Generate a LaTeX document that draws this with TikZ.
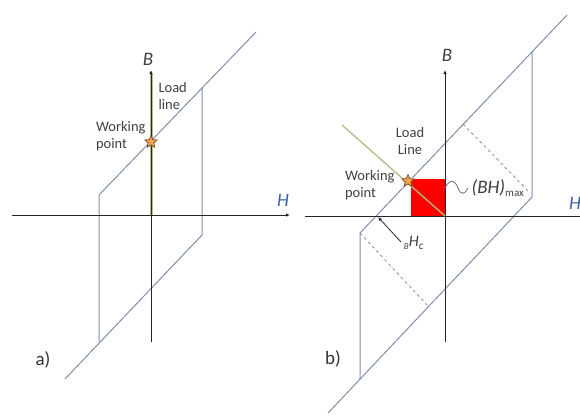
\documentclass[tikz,border=0pt]{standalone}
\usepackage{fontspec}
\setmainfont{Carlito}
\usetikzlibrary{arrows.meta,shapes.geometric}

\definecolor{loopblue}{HTML}{7F8EAE}
\definecolor{loadgreen}{HTML}{B3BC84}
\definecolor{labelgray}{HTML}{404040}
\definecolor{hblue}{HTML}{3F62A6}
\definecolor{starorange}{HTML}{F2A24A}

\begin{document}
\begin{tikzpicture}[
  x=1pt, y=-1pt,
  every node/.style={font=\fontsize{14.5}{17}\selectfont, text=labelgray},
  >={Latex[length=4pt,width=3.5pt]},
  axis/.style={draw=black!85, line width=0.9pt},
  loopline/.style={draw=loopblue, line width=1pt},
  loadline/.style={draw=loadgreen, line width=1.3pt},
  wpstar/.style={star, star points=5, star point ratio=2.2, minimum size=13pt,
                 inner sep=0pt, draw=brown!60!black, fill=starorange, line width=0.7pt},
  axlabel/.style={font=\fontsize{19}{19}\selectfont\itshape}
]
\useasboundingbox (0,0) rectangle (580,415);
\clip (0,0) rectangle (580,415);

%% --- Panel a): coordinates -----------------------------------
\coordinate (Oa)  at (151,215);
\coordinate (Ha0) at (12,215);   \coordinate (Ha1) at (290,215);
\coordinate (Ba0) at (151,342);  \coordinate (Ba1) at (151,70);
\coordinate (ua0) at (256,32);   \coordinate (ua1) at (99,195);
\coordinate (la0) at (65,379);   \coordinate (la1) at (202,235);
\coordinate (lv)  at (99,342);   \coordinate (rv)  at (202,88);

%% --- Panel a): loop and axes ---------------------------------
\draw[loadline, line width=3pt] (Oa) -- ([yshift=-4pt]Ba1);
\draw[loopline] (ua0) -- (ua1) -- (lv);
\draw[loopline] (la0) -- (la1) -- (rv);
\draw[axis,->] (Ha0) -- (Ha1);
\draw[axis,->] (Ba0) -- (Ba1);

%% --- Panel a): labels ----------------------------------------
\node[axlabel] (Bla) at (148,59) {B};
\node[axlabel, text=hblue] (Hla) at (283,200) {H};
\node[wpstar] (wpa) at (151,142) {};
\node[align=left, anchor=west] (lla) at (155,96) {Load\\line};
\node[align=left, anchor=east] (wpla) at (149,136) {Working\\point};
\node[font=\fontsize{19}{19}\selectfont, text=black!80] (tga) at (43,360) {a)};

%% --- Panel b): coordinates -----------------------------------
\coordinate (Ob)  at (445,216);
\coordinate (Hb0) at (305,216);  \coordinate (Hb1) at (584,216);
\coordinate (Bb0) at (445,342);  \coordinate (Bb1) at (445,70);
\coordinate (ub0) at (567,15);   \coordinate (ub1) at (360,233);
\coordinate (lb0) at (328,413);  \coordinate (lb1) at (532,197);
\coordinate (lvb) at (360,379);  \coordinate (rvb) at (532,52);
\coordinate (d0)  at (463,124);  \coordinate (d1)  at (530,193);
\coordinate (d2)  at (428,306);
\coordinate (ll0) at (342,125);
\coordinate (hc)  at (378,217);  \coordinate (hc1) at (401,242);

%% --- Panel b): (BH)max square, loop and axes -----------------
\fill[red] (411,179) rectangle (Ob);
\draw[loopline] (ub0) -- (ub1) -- (lvb);
\draw[loopline] (lb0) -- (lb1) -- (rvb);
\draw[loopline, line width=0.8pt, dashed] (d0) -- (d1);
\draw[loopline, line width=0.8pt, dashed] (ub1) -- (d2);
\draw[axis,->] (Hb0) -- (Hb1);
\draw[axis,->] (Bb0) -- (Bb1);
\draw[loadline] (ll0) -- (Ob);

%% --- Panel b): labels ----------------------------------------
\node[axlabel] (Blb) at (447,55) {B};
\node[axlabel, text=hblue] (Hlb) at (575,203) {H};
\node[wpstar] (wpb) at (408,181) {};
\node[align=center] (llb) at (410,141) {Load\\Line};
\node[align=left, anchor=east] (wplb) at (398,185) {Working\\point};
\node[font=\fontsize{19}{19}\selectfont, anchor=west] (bhm) at (468,188)
     {\textit{(BH)}\textsubscript{\fontsize{11}{11}\selectfont max}};
\draw[loopblue!80!black, line width=0.8pt] (445,188)
     .. controls (450,178) and (455,180) .. (458,188)
     .. controls (461,196) and (465,194) .. (bhm.west);
\node[font=\fontsize{16}{16}\selectfont] (hcl) at (414,243)
     {\raisebox{-3pt}{\fontsize{9}{9}\selectfont\textit{B}}\textit{H}\textsubscript{\textit{c}}};
\draw[axis, line width=0.8pt, ->] (hc1) -- (hc);
\node[font=\fontsize{19}{19}\selectfont, text=black!80] (tgb) at (333,359) {b)};

\end{tikzpicture}
\end{document}
